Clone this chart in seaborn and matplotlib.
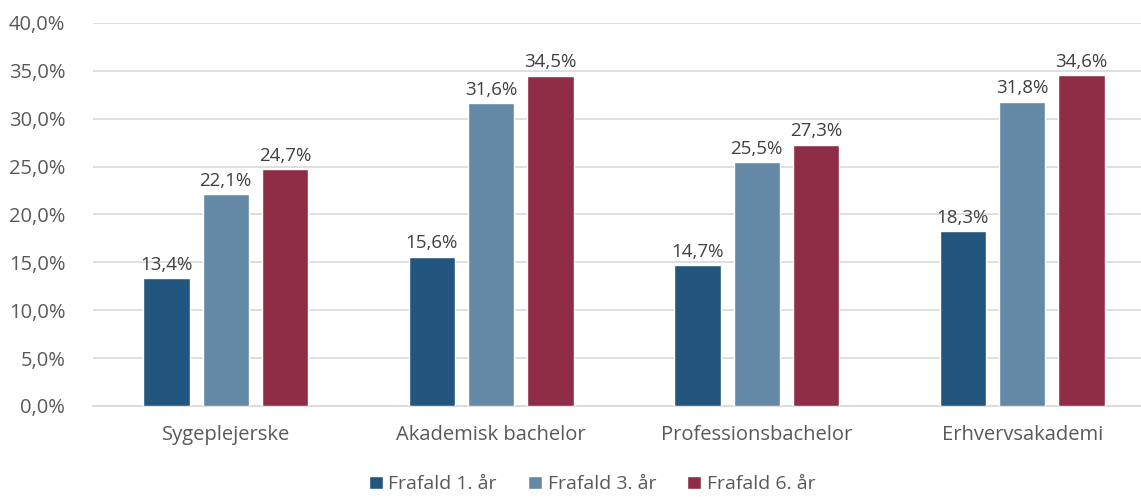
import matplotlib
matplotlib.use("Agg")
import matplotlib.pyplot as plt
import seaborn as sns
import pandas as pd

categories = ["Sygeplejerske", "Akademisk bachelor", "Professionsbachelor", "Erhvervsakademi"]
series = ["Frafald 1. år", "Frafald 3. år", "Frafald 6. år"]
year1 = [13.4, 15.6, 14.7, 18.3]
year3 = [22.1, 31.6, 25.5, 31.8]
year6 = [24.7, 34.5, 27.3, 34.6]
colors = ["#23567E", "#6389A6", "#8F2D46"]

df = pd.DataFrame({
    "kategori": categories * 3,
    "serie": [s for s in series for _ in categories],
    "værdi": year1 + year3 + year6,
})

sns.set_theme(style="white")
plt.rcParams["font.family"] = ["Open Sans", "DejaVu Sans"]
text_color = "#595959"

fig = plt.figure(figsize=(11.41, 4.97), dpi=100)
ax = fig.add_axes([93 / 1141, 1 - 406 / 497, 1062 / 1141, 383 / 497])

sns.barplot(data=df, x="kategori", y="værdi", hue="serie", order=categories,
            hue_order=series, palette=colors, width=0.67, gap=0.22,
            saturation=1, ax=ax, zorder=3)

ax.set_ylim(0, 40)
ax.set_xlim(-0.5, 3.5)
ax.set_yticks(range(0, 41, 5))
ax.set_yticklabels([f"{v:.1f}%".replace(".", ",") for v in range(0, 41, 5)])
ax.grid(axis="y", color="#D9D9D9", linewidth=1.2, zorder=0)
ax.set_xlabel("")
ax.set_ylabel("")
ax.tick_params(axis="both", length=0, labelcolor=text_color)
ax.tick_params(axis="x", pad=14, labelsize=14.5)
ax.tick_params(axis="y", pad=20, labelsize=14.5)
for side in ["top", "right", "left"]:
    ax.spines[side].set_visible(False)
ax.spines["bottom"].set_color("#D9D9D9")

for cont in ax.containers:
    ax.bar_label(cont, labels=[f"{v:.1f}%".replace(".", ",") for v in cont.datavalues],
                 padding=3, fontsize=13.5, color="#404040")

ax.legend(loc="upper center", bbox_to_anchor=(0.47, -0.135), ncol=3, frameon=False,
          fontsize=14, labelcolor=text_color, handlelength=0.7, handleheight=0.7,
          handletextpad=0.3, columnspacing=1.6)

fig.savefig("out.png", dpi=100)
